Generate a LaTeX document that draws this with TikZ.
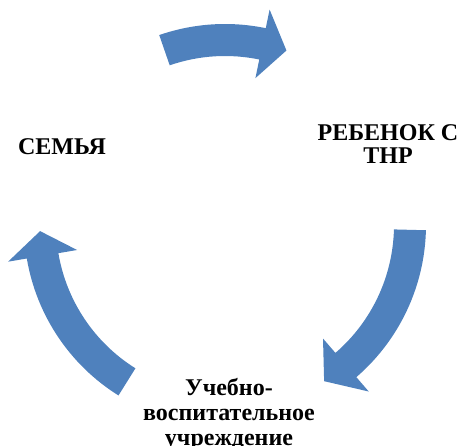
\documentclass[tikz,border=0pt]{standalone}
\usepackage{fontspec}
\setmainfont{Liberation Serif}[BoldFont={Liberation Serif Bold}]
\definecolor{cycleblue}{RGB}{79,129,189}
\newcommand\cyclearrow[3]{%
  \fill[arrowfill] (#1:201) arc[start angle=#1, end angle=#2, radius=201]
    -- (#2:220) -- (#3:185) -- (#2:150) -- (#2:169)
    arc[start angle=#2, end angle=#1, radius=169] -- cycle;}
\begin{document}
\begin{tikzpicture}[
  x=1pt, y=1pt,
  arrowfill/.style={fill=cycleblue, draw=none},
  lbl/.style={font=\fontsize{24}{23.5}\selectfont\bfseries, align=center, inner sep=0pt}
]
\useasboundingbox (0,0) rectangle (461,446);
\begin{scope}[shift={(225,221)}]
  \cyclearrow{109.1}{78.3}{70.6}
  \cyclearrow{-1.5}{-49.2}{-57.6}
  \cyclearrow{238}{189.6}{181.9}
\end{scope}
\node[lbl] (family) at (62,299.5) {СЕМЬЯ};
\node[lbl] (child)  at (388,302)  {РЕБЕНОК С\\ТНР};
\node[lbl, font=\fontsize{24}{25}\selectfont\bfseries] (school) at (229,31) {Учебно-\\воспитательное\\учреждение};
\end{tikzpicture}
\end{document}
